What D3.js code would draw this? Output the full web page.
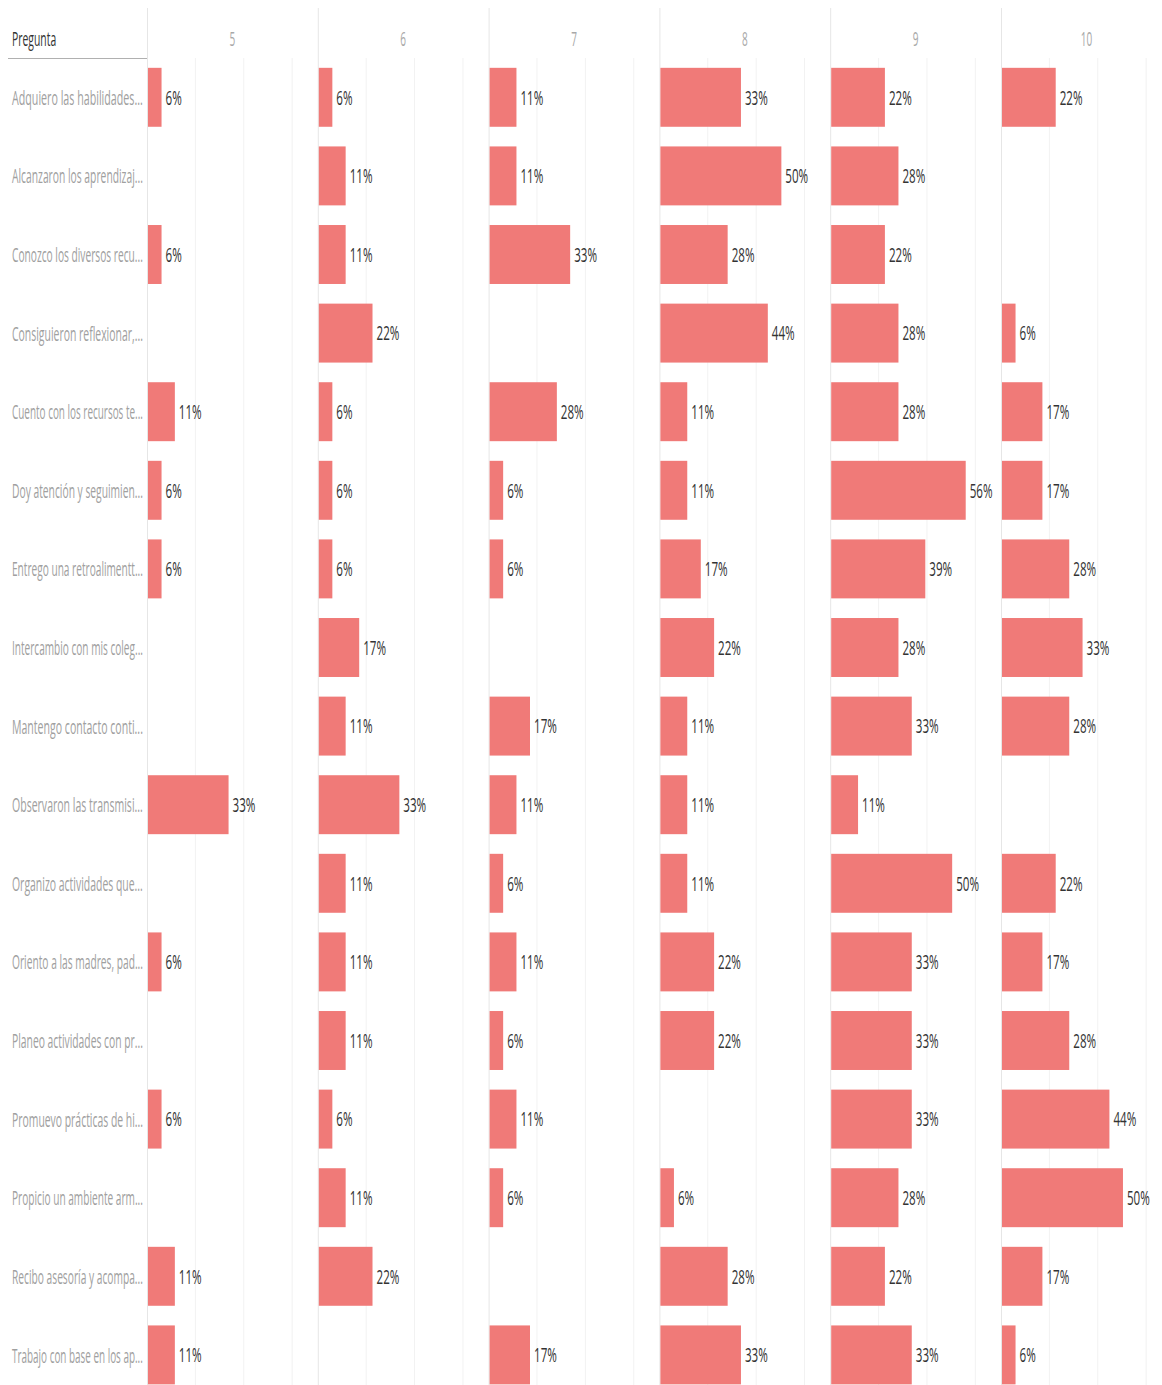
<!DOCTYPE html>
<html>
<head>
<meta charset="utf-8">
<script src="https://cdn.jsdelivr.net/npm/d3@7"></script>
<style>
  html, body { margin: 0; padding: 0; background: #fff; }
  svg { display: block; }
  text { font-family: "Open Sans", sans-serif; }
</style>
</head>
<body>
<svg id="chart" width="1162" height="1385"></svg>
<script>
const columns = ["5", "6", "7", "8", "9", "10"];

const questions = [
  "Adquiero las habilidades...",
  "Alcanzaron los aprendizaj...",
  "Conozco los diversos recu...",
  "Consiguieron reflexionar,...",
  "Cuento con los recursos te...",
  "Doy atención y seguimien...",
  "Entrego una retroalimentt...",
  "Intercambio con mis coleg...",
  "Mantengo contacto conti...",
  "Observaron las transmisi...",
  "Organizo actividades que...",
  "Oriento a las madres, pad...",
  "Planeo actividades con pr...",
  "Promuevo prácticas de hi...",
  "Propicio un ambiente arm...",
  "Recibo asesoría y acompa...",
  "Trabajo con base en los ap..."
];

// share of answers per score (null = no bar)
const score5  = [0.056, null, 0.056, null, 0.111, 0.056, 0.056, null, null, 0.333, null, 0.056, null, 0.056, null, 0.111, 0.111];
const score6  = [0.056, 0.111, 0.111, 0.222, 0.056, 0.056, 0.056, 0.167, 0.111, 0.333, 0.111, 0.111, 0.111, 0.056, 0.111, 0.222, null];
const score7  = [0.111, 0.111, 0.333, null, 0.278, 0.056, 0.056, null, 0.167, 0.111, 0.056, 0.111, 0.056, 0.111, 0.056, null, 0.167];
const score8  = [0.333, 0.500, 0.278, 0.444, 0.111, 0.111, 0.167, 0.222, 0.111, 0.111, 0.111, 0.222, 0.222, null, 0.056, 0.278, 0.333];
const score9  = [0.222, 0.278, 0.222, 0.278, 0.278, 0.556, 0.389, 0.278, 0.333, 0.111, 0.500, 0.333, 0.333, 0.333, 0.278, 0.222, 0.333];
const score10 = [0.222, null, null, 0.056, 0.167, 0.167, 0.278, 0.333, 0.278, null, 0.222, 0.167, 0.278, 0.444, 0.500, 0.167, 0.056];

const gridTicks = [0.2, 0.4, 0.6];

const seriesByColumn = [score5, score6, score7, score8, score9, score10];
const cells = [];
columns.forEach((c, ci) => {
  questions.forEach((q, qi) => {
    const v = seriesByColumn[ci][qi];
    if (v != null) cells.push({ col: c, q: q, v: v });
  });
});

const svg = d3.select("#chart");
const W = 1162, H = 1385;
const labelRight = 147;
const headerBottom = 58;
const colW = 170.8;
const rowStep = 78.6;
const SX = 0.58; // horizontal compression of text
const labelMaxW = 131;

const xCol = d3.scaleBand().domain(columns).range([labelRight, labelRight + colW * columns.length]).padding(0);
const xVal = d3.scaleLinear().domain([0, 0.706]).range([0, colW]);
const y = d3.scaleBand().domain(questions).range([headerBottom, headerBottom + rowStep * questions.length])
  .paddingInner(0.25).paddingOuter(0.125);

const fmt = d3.format(".0%");

// gridlines inside each column
const grid = svg.append("g");
columns.forEach(c => {
  grid.selectAll(null).data(gridTicks).enter().append("line")
    .attr("x1", d => xCol(c) + xVal(d)).attr("x2", d => xCol(c) + xVal(d))
    .attr("y1", headerBottom).attr("y2", H)
    .attr("stroke", "#f2f2f2").attr("stroke-width", 1);
});

// column separators
svg.append("g").selectAll("line").data(columns).enter().append("line")
  .attr("x1", d => xCol(d) + 0.5).attr("x2", d => xCol(d) + 0.5)
  .attr("y1", 8).attr("y2", H)
  .attr("stroke", "#e6e6e6").attr("stroke-width", 1);

// header underline
svg.append("line").attr("x1", 8).attr("x2", labelRight).attr("y1", headerBottom + 0.5).attr("y2", headerBottom + 0.5)
  .attr("stroke", "#b0b0b0").attr("stroke-width", 1);

function squishText(sel, x, yy, sx) {
  return sel.attr("transform", `translate(${x},${yy}) scale(${sx == null ? SX : sx},1)`);
}

// "Pregunta" header
squishText(svg.append("text"), 12, 46, 0.52)
  .attr("font-size", 20).attr("fill", "#333").text("Pregunta");

// column headers
svg.append("g").selectAll("text").data(columns).enter().append("text")
  .each(function(d) { squishText(d3.select(this), xCol(d) + xCol.bandwidth() / 2, 46, 0.5); })
  .attr("text-anchor", "middle").attr("font-size", 20).attr("fill", "#a8a8a8")
  .text(d => d);

// row labels (compressed to fit the label column)
svg.append("g").selectAll("text").data(questions).enter().append("text")
  .attr("dominant-baseline", "central")
  .attr("font-size", 20).attr("fill", "#a0a0a0")
  .text(d => d)
  .each(function(d) {
    const w = this.getComputedTextLength();
    const sx = Math.min(SX, labelMaxW / w);
    squishText(d3.select(this), 12, y(d) + y.bandwidth() / 2, sx);
  });

// bars
svg.append("g").selectAll("rect").data(cells).enter().append("rect")
  .attr("x", d => xCol(d.col) + 1)
  .attr("y", d => y(d.q))
  .attr("width", d => xVal(d.v))
  .attr("height", y.bandwidth())
  .attr("fill", "#f07a78");

// value labels
svg.append("g").selectAll("text").data(cells).enter().append("text")
  .each(function(d) { squishText(d3.select(this), xCol(d.col) + 1 + xVal(d.v) + 4, y(d.q) + y.bandwidth() / 2); })
  .attr("dominant-baseline", "central")
  .attr("font-size", 20).attr("fill", "#333")
  .text(d => fmt(d.v));
</script>
</body>
</html>
